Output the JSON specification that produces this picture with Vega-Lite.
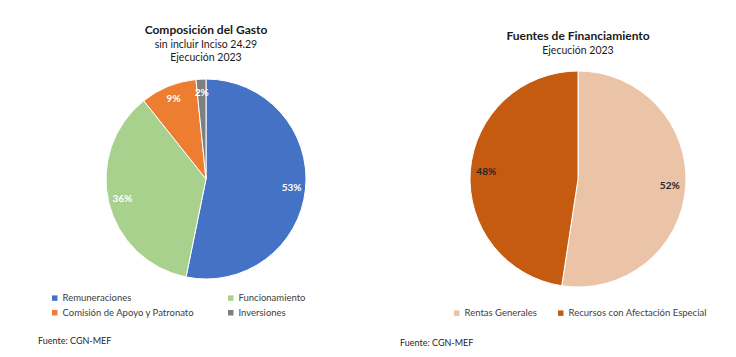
{
  "$schema": "https://vega.github.io/schema/vega-lite/v6.json",
  "padding": {"left": 38, "top": 23, "right": 0, "bottom": 0},
  "spacing": 26,
  "config": {
    "view": {"stroke": null},
    "font": "Lato",
    "title": {"font": "Lato", "color": "#1a1a1a", "subtitleFont": "Lato", "subtitleColor": "#1a1a1a"},
    "legend": {"labelFont": "Lato", "labelFontSize": 9.5, "labelColor": "#404040", "symbolType": "square", "symbolSize": 30, "symbolStrokeWidth": 0, "labelOffset": 3, "labelLimit": 300, "title": null}
  },
  "hconcat": [
    {
      "title": {"text": "Fuente: CGN-MEF", "orient": "bottom", "anchor": "start", "frame": "group", "fontSize": 9, "fontWeight": "normal", "color": "#262626", "offset": 19},
      "vconcat": [
        {
          "width": 336,
          "height": 220,
          "title": {"text": "Composición  del Gasto", "subtitle": ["sin incluir Inciso 24.29", "Ejecución 2023"], "fontSize": 12, "fontWeight": "bold", "subtitleFontSize": 10.5, "subtitlePadding": 3, "subtitleLineHeight": 13, "offset": 5, "anchor": "middle"},
          "data": {"values": [
            {"concepto": "Remuneraciones", "valor": 0.532, "orden": 1},
            {"concepto": "Funcionamiento", "valor": 0.361, "orden": 2},
            {"concepto": "Comisión de Apoyo y Patronato", "valor": 0.091, "orden": 3},
            {"concepto": "Inversiones", "valor": 0.016, "orden": 4}
          ]},
          "encoding": {
            "theta": {"field": "valor", "type": "quantitative", "stack": true},
            "order": {"field": "orden", "type": "quantitative"},
            "color": {
              "field": "concepto", "type": "nominal",
              "scale": {"domain": ["Remuneraciones", "Comisión de Apoyo y Patronato", "Funcionamiento", "Inversiones"], "range": ["#4472C4", "#ED7D31", "#A9D18E", "#7F7F7F"]},
              "legend": {"orient": "none", "legendX": 12, "legendY": 224, "columns": 2, "columnPadding": 31, "rowPadding": 4}
            }
          },
          "layer": [
            {"mark": {"type": "arc", "outerRadius": 100, "stroke": "white", "strokeWidth": 1}},
            {"mark": {"type": "text", "radius": 86, "fontWeight": "bold", "fontSize": 10, "font": "Lato"},
             "encoding": {"text": {"field": "valor", "type": "quantitative", "format": ".0%"}, "color": {"value": "white"}, "detail": {"field": "concepto"}}}
          ]
        }
      ]
    },
    {
      "title": {"text": "Fuente: CGN-MEF", "orient": "bottom", "anchor": "start", "frame": "group", "fontSize": 9, "fontWeight": "normal", "color": "#262626", "offset": 21, "dx": -52},
      "vconcat": [
        {
          "width": 252,
          "height": 220,
          "title": {"text": "Fuentes de Financiamiento", "subtitle": ["Ejecución 2023"], "fontSize": 12, "fontWeight": "bold", "subtitleFontSize": 10.5, "subtitlePadding": 3, "subtitleLineHeight": 13, "offset": 12, "anchor": "middle"},
          "data": {"values": [
            {"fuente": "Rentas Generales", "valor": 0.524, "orden": 1},
            {"fuente": "Recursos con Afectación Especial", "valor": 0.476, "orden": 2}
          ]},
          "encoding": {
            "theta": {"field": "valor", "type": "quantitative", "stack": true},
            "order": {"field": "orden", "type": "quantitative"},
            "color": {
              "field": "fuente", "type": "nominal",
              "scale": {"domain": ["Rentas Generales", "Recursos con Afectación Especial"], "range": ["#EBC3A6", "#C55A11"]},
              "legend": {"orient": "none", "legendX": 0, "legendY": 239, "direction": "horizontal", "columnPadding": 19}
            }
          },
          "layer": [
            {"mark": {"type": "arc", "outerRadius": 108, "stroke": "white", "strokeWidth": 1}},
            {"mark": {"type": "text", "radius": 92, "fontWeight": "bold", "fontSize": 10, "font": "Lato"},
             "encoding": {"text": {"field": "valor", "type": "quantitative", "format": ".0%"}, "color": {"value": "#262626"}, "detail": {"field": "fuente"}}}
          ]
        }
      ]
    }
  ],
  "resolve": {"scale": {"color": "independent"}}
}
